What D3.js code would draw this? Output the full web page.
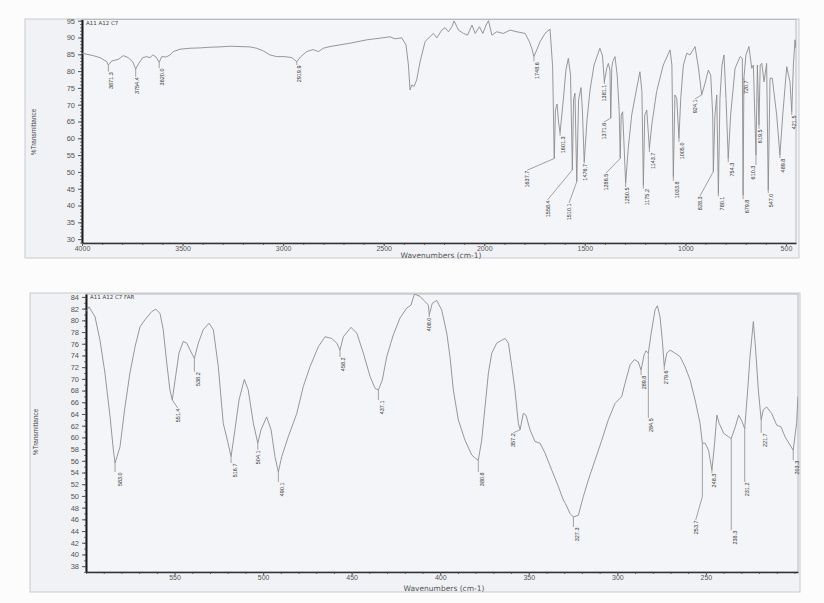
<!DOCTYPE html>
<html>
<head>
<meta charset="utf-8">
<script src="https://cdn.jsdelivr.net/npm/d3@7"></script>
<style>
  body { margin: 0; background: #fcfcfd; }
  svg { display: block; font-family: "DejaVu Sans", sans-serif; }
</style>
</head>
<body>
<svg id="chart" width="824" height="603"></svg>
<script>
// ---- mid IR spectrum (wavenumber, %T) ----
const midSpectrum = [
  [4000,85.3],[3944,84.6],[3910,84.0],[3877,82.8],[3869,81.8],[3852,83.0],[3819,83.5],[3795,84.6],
  [3770,84.0],[3748,82.8],[3733,80.6],[3718,82.3],[3698,84.0],[3678,84.3],[3662,84.0],[3648,84.8],
  [3632,84.2],[3616,82.6],[3604,84.3],[3582,84.2],[3562,84.8],[3546,85.8],[3513,86.5],[3463,86.8],
  [3413,86.9],[3364,87.1],[3314,87.2],[3264,87.4],[3214,87.3],[3165,87.2],[3131,86.8],[3098,86.0],
  [3065,84.8],[3032,84.3],[2991,84.3],[2957,84.0],[2932,82.8],[2912,84.3],[2883,85.8],[2850,86.4],
  [2825,85.8],[2800,86.8],[2767,87.3],[2667,88.3],[2584,89.3],[2518,89.8],[2468,90.2],[2444,89.6],
  [2410,89.9],[2389,87.8],[2377,81.8],[2369,74.4],[2360,75.9],[2349,75.4],[2336,77.4],[2319,82.8],
  [2294,88.8],[2270,90.2],[2253,91.2],[2236,89.9],[2211,92.2],[2195,92.9],[2178,91.7],[2161,93.2],
  [2150,94.9],[2128,92.2],[2103,91.2],[2083,90.7],[2061,93.7],[2045,91.2],[2024,93.2],[2007,91.2],
  [1991,93.7],[1979,95.0],[1962,90.7],[1938,91.7],[1905,91.2],[1872,92.2],[1838,91.7],[1797,91.2],
  [1776,88.8],[1764,86.8],[1753,84.3],[1739,86.3],[1722,88.8],[1698,91.2],[1673,92.5],[1660,81.3],
  [1652,54.0],[1646,68.4],[1638,70.2],[1630,64.5],[1623,61.7],[1607,71.4],[1594,80.3],[1582,83.8],
  [1571,78.8],[1562,50.6],[1556,71.4],[1549,73.4],[1540,47.1],[1531,71.4],[1519,75.1],[1512,68.4],
  [1503,53.0],[1489,65.5],[1474,74.4],[1454,81.8],[1425,86.8],[1412,84.5],[1403,76.8],[1391,80.8],
  [1383,82.3],[1375,80.3],[1371,66.0],[1366,81.0],[1361,82.8],[1350,84.3],[1339,78.8],[1329,67.9],
  [1324,54.0],[1319,66.9],[1312,67.9],[1297,46.6],[1284,57.0],[1267,66.9],[1242,74.9],[1226,79.8],
  [1216,73.9],[1209,46.1],[1202,66.9],[1192,68.4],[1179,57.0],[1167,64.0],[1143,73.9],[1110,81.8],
  [1076,86.3],[1067,81.8],[1060,48.6],[1052,72.9],[1043,71.9],[1032,60.0],[1023,71.9],[1010,81.8],
  [993,85.3],[977,84.8],[952,87.3],[935,81.0],[919,72.9],[902,76.4],[886,80.3],[874,78.8],
  [864,66.9],[861,50.1],[853,66.9],[844,72.9],[836,43.6],[828,71.9],[818,81.8],[808,84.8],
  [798,71.9],[787,54.0],[775,66.9],[753,80.8],[728,84.3],[717,83.8],[713,43.1],[709,77.9],
  [699,84.8],[684,87.3],[670,80.8],[662,81.8],[649,55.0],[642,81.8],[634,64.0],[628,81.8],
  [620,82.3],[609,76.8],[596,82.3],[588,44.6],[579,77.9],[568,77.9],[546,66.9],[530,55.0],
  [516,66.9],[496,81.3],[480,76.8],[471,67.9],[463,81.8],[455,89.3],[450,86.8]
];
// labelled peaks: [text, wavenumber, %T]
const midPeaks = [
  ["3871.3",3869,81.8],["3754.4",3733,80.6],["3620.0",3616,82.6],["2919.9",2932,82.8],
  ["1748.6",1753,84.3],["1637.7",1652,54.0],["1601.3",1623,61.7],["1558.4",1562,50.6],
  ["1510.1",1540,47.1],["1476.7",1503,53.0],["1381.1",1403,76.8],["1371.6",1371,66.0],
  ["1286.5",1324,54.0],["1250.5",1297,46.6],["1175.2",1209,46.1],["1143.7",1179,57.0],
  ["1033.8",1060,48.6],["1005.0",1032,60.0],["924.1",919,72.9],["828.3",861,50.1],
  ["780.1",836,43.6],["754.3",787,54.0],["720.7",709,77.9],["679.8",713,43.1],
  ["610.3",649,55.0],["619.5",634,64.0],["547.0",588,44.6],["489.8",530,55.0],["421.5",471,67.9]
];
const midXTicks = [4000, 3500, 3000, 2500, 2000, 1500, 1000, 500];
const midYTicks = [30, 35, 40, 45, 50, 55, 60, 65, 70, 75, 80, 85, 90, 95];

// ---- far IR spectrum ----
const farSpectrum = [
  [600,81.5],[598.3,82.3],[594.9,80.6],[592.1,76.6],[589.3,71.0],[586.4,63.5],[584.6,58.0],[583.6,55.6],
  [580.8,58.4],[578.0,65.2],[575.2,71.0],[572.3,75.5],[569.5,78.9],[566.7,80.1],[562.9,81.5],[560.6,81.9],
  [558.2,81.2],[556.4,78.4],[554.4,72.7],[552.6,68.1],[551.3,66.4],[549.7,69.8],[547.5,74.4],[545.1,76.4],
  [543.1,76.1],[540.7,74.6],[538.8,73.5],[536.6,76.1],[533.8,78.4],[530.5,79.5],[528.1,78.4],[525.3,72.1],
  [522.5,62.4],[520.0,59.3],[518.1,56.7],[515.9,61.3],[513.6,66.4],[510.6,69.9],[508.4,68.1],[505.5,62.4],
  [503.0,59.0],[501.2,61.3],[498.0,63.5],[495.5,61.3],[493.3,56.7],[491.4,54.1],[489.5,56.7],[485.8,60.1],
  [481.0,64.1],[477.3,68.7],[473.5,72.1],[468.8,75.5],[465.0,77.2],[461.3,76.9],[458.4,76.1],[456.6,74.9],
  [454.7,77.2],[450.4,78.8],[447.1,77.8],[443.4,74.4],[439.6,70.4],[436.8,68.4],[434.9,68.1],[432.7,69.8],
  [430.2,73.8],[426.5,77.5],[422.7,80.4],[418.9,82.1],[416.5,82.6],[414.6,84.5],[411.4,84.1],[408.6,83.2],
  [406.7,82.6],[406.2,80.9],[404.5,82.9],[402.0,83.4],[399.2,81.8],[396.3,77.8],[394.5,73.8],[392.6,68.1],
  [389.8,63.0],[386.0,59.5],[382.2,57.0],[380.0,56.4],[378.5,56.1],[376.6,59.5],[374.7,65.2],[372.8,71.0],
  [370.9,74.4],[368.1,76.1],[365.3,76.6],[363.4,76.9],[361.5,76.1],[359.6,72.1],[357.8,68.1],[355.9,62.4],
  [354.9,61.3],[353.1,64.1],[351.6,63.8],[349.3,61.3],[346.5,59.3],[343.6,59.0],[340.8,57.3],[337.0,54.4],
  [333.3,51.6],[330.5,49.3],[329.3,48.7],[326.7,47.0],[324.8,46.4],[322.0,46.7],[319.2,49.9],[316.4,52.7],
  [312.6,56.1],[308.8,59.5],[305.1,63.0],[301.3,65.8],[297.5,67.0],[295.7,69.2],[292.8,72.4],[290.4,73.3],
  [288.2,72.9],[286.6,71.5],[284.9,74.1],[283.8,74.8],[282.5,74.4],[280.9,77.8],[278.7,81.8],[277.4,82.5],
  [275.9,80.6],[274.6,76.6],[273.5,72.1],[272.1,74.4],[270.2,74.9],[267.4,74.4],[264.6,73.8],[261.8,72.1],
  [258.9,69.8],[256.1,66.4],[253.3,62.4],[252.0,59.0],[250.4,59.0],[248.5,57.8],[246.6,54.4],[245.1,59.0],
  [243.8,63.8],[242.5,62.4],[240.0,60.7],[237.2,60.1],[235.7,59.8],[233.4,61.8],[231.5,63.8],[229.6,62.7],
  [228.1,61.5],[226.4,68.1],[225.1,73.8],[223.2,79.8],[221.9,74.9],[220.4,68.1],[218.8,63.0],[217.6,64.7],
  [215.7,65.2],[212.9,64.1],[210.0,62.1],[207.6,61.8],[205.3,60.1],[202.5,58.7],[200.7,57.8],[198.8,62.4],
  [198.0,67.0]
];
const farPeaks = [
  ["583.0",583.6,55.6],["551.4",551.3,66.4],["538.2",538.8,73.5],["516.7",518.1,56.7],
  ["504.1",503.0,59.0],["490.1",491.4,54.1],["458.2",456.6,74.9],["437.1",434.9,68.1],
  ["408.0",406.2,80.9],["380.8",378.5,56.1],["357.2",354.9,61.3],["327.3",324.8,46.4],
  ["289.8",286.6,71.5],["284.5",282.5,74.4],["279.6",273.5,72.1],["253.7",252.0,59.0],
  ["248.3",246.6,54.4],["238.3",235.7,59.8],["231.2",228.1,61.5],["221.7",218.8,63.0],["203.3",200.7,57.8]
];
const farXTicks = [550, 500, 450, 400, 350, 300, 250];
const farYTicks = d3.range(38, 85, 2);

// label placement (px offset of label top from the peak: dx, dy, optional knee)
const midLabelOffsets = [
  [2.2,6.7],[1.3,7.7],[2.4,5.7],[2.3,3.3],[2.7,5],[-27,11.7],[3,3.3],[-24.8,30],[-7.7,21.3],
  [0.7,1.5],[-0.8,2.3],[-7,4],[-14.3,14.7],[1,3.7],[3.7,3.5],[3.7,3.7],[3.7,4.3],[3,3.7],
  [-6.7,4],[-13.3,24.3],[3.7,2.7],[3.4,3.7],[2.5,1.7],[3.5,4],[-3.3,10],[1.5,4],[2.4,3],[2.7,3],[2.6,3.3]
];
const farLabelOffsets = [
  [4.7,8.7],[5.4,8],[4,13.4],[4,6.3],[0.6,6.7],[4,10],[3.3,6.7],[3.4,10],[0,2],[3.4,11.7],
  [-6.7,3],[3.4,10],[3.3,5],[2.4,64.7],[1.7,3.3],[-6.6,76.7,53.4],[1.6,3],[3.3,91.7],[2.4,53.4],[4,13],[4,10]
];

const svg = d3.select('#chart');

function drawPanel(o) {
  const x = d3.scaleLinear().domain(o.xDomain).range([o.left, o.right]);
  const y = d3.scaleLinear().domain(o.yDomain).range([o.bottom, o.top]);
  const g = svg.append('g');

  g.append('rect')
    .attr('x', o.frame[0]).attr('y', o.frame[1])
    .attr('width', o.frame[2] - o.frame[0]).attr('height', o.frame[3] - o.frame[1])
    .attr('fill', '#f1f2f6').attr('stroke', '#c9cacf').attr('stroke-width', 1);

  g.append('rect')
    .attr('x', o.left).attr('y', o.top)
    .attr('width', o.right - o.left).attr('height', o.bottom - o.top)
    .attr('fill', '#f4f5f8').attr('stroke', '#b9babe').attr('stroke-width', 1);

  // minor ticks
  g.append('g').attr('transform', `translate(${o.left},0)`)
    .call(d3.axisLeft(y).tickValues(o.yMinor).tickSize(2).tickFormat(''))
    .call(a => a.select('.domain').remove())
    .selectAll('line').attr('stroke', '#777');
  g.append('g').attr('transform', `translate(0,${o.bottom})`)
    .call(d3.axisBottom(x).tickValues(o.xMinor).tickSize(2).tickFormat(''))
    .call(a => a.select('.domain').remove())
    .selectAll('line').attr('stroke', '#777');

  const ya = g.append('g').attr('transform', `translate(${o.left},0)`)
    .call(d3.axisLeft(y).tickValues(o.yTicks).tickSize(4).tickPadding(3).tickSizeOuter(0));
  ya.select('.domain').attr('stroke', '#1a1a1a').attr('stroke-width', 2);
  ya.selectAll('line').attr('stroke', '#555');
  ya.selectAll('text').attr('fill', '#555').style('font-size', '7.5px');

  const xa = g.append('g').attr('transform', `translate(0,${o.bottom})`)
    .call(d3.axisBottom(x).tickValues(o.xTicks).tickFormat(d3.format('d'))
      .tickSize(3).tickPadding(0).tickSizeOuter(0));
  xa.select('.domain').attr('stroke', '#333').attr('stroke-width', 1.5);
  xa.selectAll('line').attr('stroke', '#555');
  xa.selectAll('text').attr('fill', '#555').style('font-size', '7px');

  g.append('text')
    .attr('transform', `translate(${o.yLabelX},${o.yLabelY}) rotate(-90)`)
    .attr('text-anchor', 'middle')
    .style('font-family', '"Liberation Sans Narrow","Liberation Sans",sans-serif')
    .style('font-size', '6.5px').attr('fill', '#444')
    .text('%Transmittance');

  g.append('text')
    .attr('x', o.xLabelX).attr('y', o.xLabelY)
    .attr('text-anchor', 'middle')
    .style('font-size', '7.5px').attr('fill', '#555')
    .text('Wavenumbers (cm-1)');

  g.append('text')
    .attr('x', o.left + 4).attr('y', o.top + 5)
    .style('font-size', '5.5px').attr('fill', '#444')
    .text(o.title);

  const clipId = 'clip' + o.title.length;
  svg.append('clipPath').attr('id', clipId)
    .append('rect').attr('x', o.left).attr('y', o.top)
    .attr('width', o.right - o.left).attr('height', o.bottom - o.top);

  const line = d3.line().x(d => x(d[0])).y(d => y(d[1]));
  g.append('path')
    .datum(o.data)
    .attr('clip-path', `url(#${clipId})`)
    .attr('d', line)
    .attr('fill', 'none').attr('stroke', '#8c8c8c').attr('stroke-width', 0.9);

  // peak labels with leaders
  const pk = g.append('g');
  o.peaks.forEach((p, i) => {
    const off = o.offsets[i];
    const px = x(p[1]), py = y(p[2]);
    const lx = px + off[0], ly = py + off[1];
    let d;
    if (off.length > 2) d = `M${px},${py}V${py + off[2]}L${lx},${ly}`;
    else if (Math.abs(off[0]) < 5) d = `M${px},${py}V${ly}`;
    else d = `M${px},${py}L${lx},${ly}`;
    pk.append('path').attr('d', d).attr('fill', 'none')
      .attr('stroke', '#8c8c8c').attr('stroke-width', 0.8);
    pk.append('text')
      .attr('transform', `translate(${lx},${ly + 0.5}) rotate(-90)`)
      .attr('text-anchor', 'end').attr('dominant-baseline', 'central')
      .style('font-family', '"Liberation Sans Narrow","Liberation Sans",sans-serif')
      .style('font-size', '5.5px').attr('fill', '#333')
      .text(p[0]);
  });
}

drawPanel({
  data: midSpectrum, peaks: midPeaks, offsets: midLabelOffsets,
  xDomain: [4000, 450], yDomain: [28.85, 95.35],
  left: 82, right: 796, top: 19.5, bottom: 243,
  frame: [25, 19, 799, 258],
  xTicks: midXTicks, yTicks: midYTicks,
  xMinor: d3.range(500, 4001, 100), yMinor: d3.range(29, 96, 1),
  yLabelX: 36, yLabelY: 132, xLabelX: 441, xLabelY: 257.5,
  title: 'A11 A12 C7'
});

drawPanel({
  data: farSpectrum, peaks: farPeaks, offsets: farLabelOffsets,
  xDomain: [600, 198], yDomain: [37, 84.5],
  left: 86, right: 798, top: 294, bottom: 572,
  frame: [30, 293, 800, 592],
  xTicks: farXTicks, yTicks: farYTicks,
  xMinor: d3.range(200, 601, 10), yMinor: d3.range(37, 85, 1),
  yLabelX: 38, yLabelY: 432, xLabelX: 444, xLabelY: 590.5,
  title: 'A11 A12 C7 FAR'
});
</script>
</body>
</html>
